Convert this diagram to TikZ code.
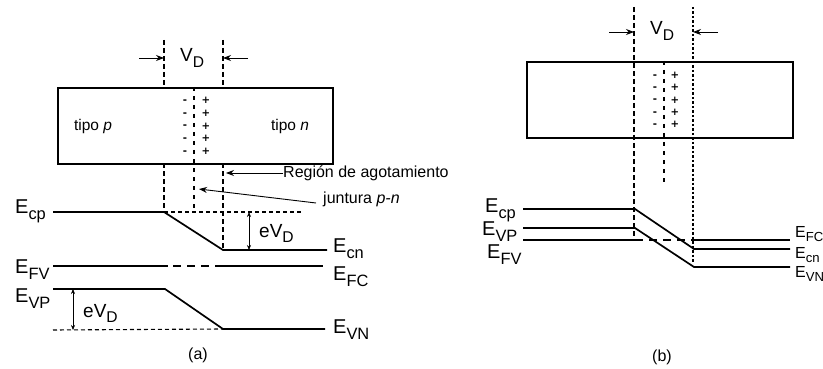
\documentclass[tikz,border=0pt]{standalone}
\usepackage{fontspec}
\setmainfont{Liberation Sans}
\newfontfamily\chgfont{DejaVu Sans}
\usetikzlibrary{arrows.meta, positioning}
\newcommand{\dn}[1]{\raisebox{-0.3em}{\scalebox{0.82}{#1}}}
\newcommand{\Elev}[1]{E\dn{#1}}
\tikzset{band/.style = {line width = 1.7pt},
         slab/.style = {draw, line width = 1.9pt, minimum width = #1, anchor = north west, inner sep = 0pt},
         edge/.style = {dash pattern = on 5pt off 3pt, line width = 1.2pt},
         dotline/.style = {dash pattern = on 2.5pt off 2pt, line width = 1.3pt},
         junct/.style = {dash pattern = on 4pt off 5pt, line width = 1.1pt},
         guide/.style = {dash pattern = on 4pt off 3pt, line width = 1.1pt},
         fermi/.style = {dash pattern = on 8pt off 6pt, dash phase = -5pt, line width = 1.6pt},
         pointer/.style = {-{Stealth[length = 8pt, width = 6pt]}, line width = 0.9pt},
         gap/.style = {{Stealth[length = 5pt, width = 4pt]}-{Stealth[length = 5pt, width = 4pt]}, line width = 0.6pt},
         lvl/.style = {font = \fontsize{20}{20}\selectfont, anchor = base west, inner sep = 0pt},
         lbl/.style = {font = \fontsize{15.5}{15.5}\selectfont, inner sep = 0pt},
         charges/.style = {font = \chgfont\bfseries\fontsize{10.2}{#1}\selectfont, align = center, inner sep = 0pt}}

\begin{document}
\begin{tikzpicture}[x = 1pt, y = -1pt]
  \useasboundingbox (0,0) rectangle (823,369);

  % ---------- (a) ----------
  \node[slab = 275pt, minimum height = 76pt] (boxa) at (57,87) {};
  \node[lbl] (pa) at (93,126)  {tipo \textit{p}};
  \node[lbl] (na) at (290,126) {tipo \textit{n}};
  \node[charges = 12.7pt] (mina) at (185,127) {-\\-\\-\\-\\-};
  \node[charges = 12.7pt] (plua) at (206,126) {+\\+\\+\\+\\+};

  \coordinate (la1) at (164,40);  \coordinate (la2) at (164,87);
  \coordinate (la3) at (164,163); \coordinate (ra1) at (223,40);
  \coordinate (ra2) at (223,87);  \coordinate (ra3) at (223,163);
  \coordinate (ja1) at (194,87);  \coordinate (ja2) at (194,210);
  \draw[edge] (la1) -- (la2);  \draw[edge] (ra1) -- (ra2);
  \draw[junct] (ja1) -- (ja2);

  \coordinate (cpa) at (53,212);  \coordinate (cpb) at (164,212);
  \coordinate (cna) at (223,250); \coordinate (cnb) at (327,250);
  \coordinate (cpd) at (303,212);
  \draw[edge] (la3) -- (cpb);  \draw[edge] (ra3) -- (cna);
  \draw[band] (cpa) -- (cpb) -- (cna) -- (cnb);
  \draw[guide] (cpb) -- (cpd);

  \coordinate (fva) at (53,266);  \coordinate (fvb) at (168,266);
  \coordinate (fca) at (215,266); \coordinate (fcb) at (323,266);
  \draw[band] (fva) -- (fvb);
  \draw[fermi] (fvb) -- (fca);
  \draw[band] (fca) -- (fcb);

  \coordinate (vpa) at (53,289);  \coordinate (vpb) at (165,289);
  \coordinate (vna) at (223,329); \coordinate (vnb) at (325,329);
  \coordinate (vpd) at (53,330);
  \draw[band] (vpa) -- (vpb) -- (vna) -- (vnb);
  \draw[guide] (vpd) -- (vna);

  % potential steps
  \coordinate (ga1) at (249,212); \coordinate (ga2) at (249,250);
  \draw[gap] (ga1) -- (ga2);
  \node[lvl, font = \fontsize{19}{19}\selectfont] (eva) at (259,237) {eV\dn{D}};
  \coordinate (gb1) at (73,289);  \coordinate (gb2) at (73,330);
  \draw[gap] (gb1) -- (gb2);
  \node[lvl, font = \fontsize{19}{19}\selectfont] (evb) at (83,317) {eV\dn{D}};

  % width of depletion
  \coordinate (pla) at (139,58); \coordinate (pra) at (248,58);
  \coordinate (tla) at (164,58); \coordinate (tra) at (223,58);
  \draw[pointer] (pla) -- (tla);
  \draw[pointer] (pra) -- (tra);
  \node[lvl, font = \fontsize{19}{19}\selectfont] (vda) at (180,62) {V\dn{D}};

  % callouts
  \node[lbl, anchor = west, font = \fontsize{16}{16}\selectfont] (reg) at (283,173) {Región de agotamiento};
  \coordinate (rgt) at (226,173);
  \draw[pointer] (reg.west) -- (rgt);
  \node[lbl, anchor = west, font = \fontsize{16}{16}\selectfont] (jun) at (323,199) {juntura \textit{p-n}};
  \coordinate (jnt) at (199,189);
  \draw[pointer] (316,203) -- (jnt);

  \node[lvl] (ecp) at (15,213) {\Elev{cp}};
  \node[lvl] (efv) at (15,273) {\Elev{FV}};
  \node[lvl] (evp) at (15,302) {\Elev{VP}};
  \node[lvl] (ecn) at (333,252) {\Elev{cn}};
  \node[lvl] (efc) at (333,280) {\Elev{FC}};
  \node[lvl] (evn) at (333,333) {\Elev{VN}};

  \node[lbl, font = \fontsize{16}{16}\selectfont] (capa) at (198,355) {(a)};

  % ---------- (b) ----------
  \node[slab = 266pt, minimum height = 76pt] (boxb) at (526,61) {};
  \node[charges = 12.2pt] (minb) at (655,101) {-\\-\\-\\-\\-};
  \node[charges = 12.2pt] (plub) at (675,100) {+\\+\\+\\+\\+};
  \coordinate (lb1) at (634,7);  \coordinate (lb2) at (634,240);
  \coordinate (rb1) at (693,7);  \coordinate (rb2) at (693,263);
  \coordinate (jb1) at (664,61); \coordinate (jb2) at (664,183);
  \draw[edge] (lb1) -- (lb2);
  \draw[dotline] (rb1) -- (rb2);
  \draw[junct] (jb1) -- (jb2);

  \coordinate (plb) at (609,32); \coordinate (prb) at (718,32);
  \coordinate (tlb) at (634,32); \coordinate (trb) at (693,32);
  \draw[pointer] (plb) -- (tlb);
  \draw[pointer] (prb) -- (trb);
  \node[lvl, font = \fontsize{19}{19}\selectfont] (vdb) at (650,35) {V\dn{D}};

  \coordinate (cpc) at (523,209); \coordinate (cpe) at (635,209);
  \coordinate (cnc) at (694,249); \coordinate (cne) at (790,249);
  \draw[band] (cpc) -- (cpe) -- (cnc) -- (cne);
  \coordinate (vpc) at (523,228); \coordinate (vpe) at (635,228);
  \coordinate (vnc) at (694,267); \coordinate (vne) at (790,267);
  \draw[band] (vpc) -- (vpe) -- (vnc) -- (vne);
  \coordinate (fvc) at (523,240); \coordinate (fve) at (635,240);
  \coordinate (fcc) at (694,240); \coordinate (fce) at (790,240);
  \draw[band] (fvc) -- (fve);
  \draw[fermi, dash phase = 0pt] (fve) -- (fcc);
  \draw[band] (fcc) -- (fce);

  \node[lvl] (ecpb) at (485,212) {\Elev{cp}};
  \node[lvl] (evpb) at (482,235) {\Elev{VP}};
  \node[lvl] (efvb) at (487,258) {\Elev{FV}};
  \node[lvl, font = \fontsize{16}{16}\selectfont] (efcb) at (795,237) {\Elev{FC}};
  \node[lvl, font = \fontsize{16}{16}\selectfont] (ecnb) at (795,258) {\Elev{cn}};
  \node[lvl, font = \fontsize{16}{16}\selectfont] (evnb) at (795,277) {\Elev{VN}};

  \node[lbl, font = \fontsize{16}{16}\selectfont] (capb) at (662,357) {(b)};
\end{tikzpicture}
\end{document}
